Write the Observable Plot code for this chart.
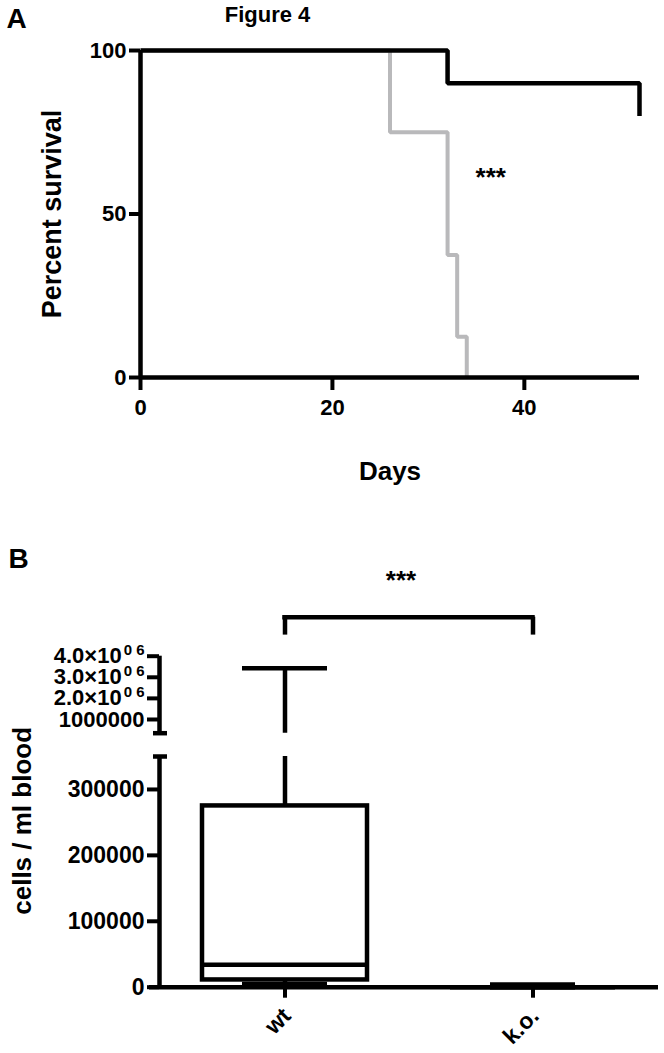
<!DOCTYPE html>
<html>
<head>
<meta charset="utf-8">
<script src="https://cdn.jsdelivr.net/npm/d3@7"></script>
<script src="https://cdn.jsdelivr.net/npm/@observablehq/plot@0.6"></script>
<style>
html, body { margin: 0; padding: 0; background: #fff; }
#fig { position: relative; width: 664px; height: 1053px; overflow: hidden; background: #fff;
       font-family: "Liberation Sans", Arial, sans-serif; font-weight: bold; }
#fig svg { position: absolute; left: 0; overflow: visible; font-weight: bold; }
</style>
</head>
<body>
<div id="fig"></div>
<script>
// ---------- Panel A: survival ----------
const wtDays = [0, 32, 52];
const wtSurvival = [100, 90, 80];
const koDays = [0, 26, 32, 33, 34];
const koSurvival = [100, 75, 37.5, 12.5, 0];
const dayTicks = [0, 20, 40];
const survivalTicks = [0, 50, 100];

// ---------- Panel B: box plot (cells / ml blood) ----------
const groups = ["wt", "k.o."];
const boxMin = [5000, 0];
const boxQ1 = [11000, 0];
const boxMedian = [34000, 0];
const boxQ3 = [275000, 0];
const boxMax = [3430000, 4000];
const lowerTicks = [0, 100000, 200000, 300000];
const lowerTickLabels = ["0", "100000", "200000", "300000"];
const upperTicks = [1000000, 2000000, 3000000, 4000000];
const upperTickBase = ["1000000", "2.0×10", "3.0×10", "4.0×10"];
const upperTickSup = ["", "0 6", "0 6", "0 6"];
const breakValue = 350000;
const upperTop = 4000000;

const FONT = '"Liberation Sans", Arial, sans-serif';
const baseStyle = {fontFamily: FONT, fontWeight: "bold", background: "transparent", overflow: "visible", color: "black"};
const fig = document.getElementById("fig");
const LW = 4.5;

const wtRows = wtDays.map((d, i) => ({day: d, pct: wtSurvival[i]}));
const koRows = koDays.map((d, i) => ({day: d, pct: koSurvival[i]}));

const plotA = Plot.plot({
  width: 664, height: 500,
  marginLeft: 140, marginRight: 25, marginTop: 50, marginBottom: 123,
  style: baseStyle,
  x: {domain: [0, 52]},
  y: {domain: [0, 100]},
  marks: [
    Plot.line(koRows, {x: "day", y: "pct", curve: "step-after", stroke: "#b9b9bb", strokeWidth: 4, strokeLinejoin: "miter", strokeLinecap: "butt"}),
    Plot.ruleY([0], {strokeWidth: LW}),
    Plot.ruleX([0], {y1: 0, y2: 100, strokeWidth: LW}),
    Plot.line(wtRows, {x: "day", y: "pct", curve: "step-after", stroke: "black", strokeWidth: LW, strokeLinejoin: "miter", strokeLinecap: "butt"}),
    Plot.axisX({ticks: dayTicks, tickSize: 13, tickPadding: 9, strokeWidth: 4, fontSize: 22, fontWeight: "bold", label: null}),
    Plot.axisY({ticks: survivalTicks, tickSize: 11, tickPadding: 3, strokeWidth: 4, fontSize: 22, fontWeight: "bold", label: null}),
    Plot.text(["Days"], {frameAnchor: "bottom", dy: 102, textAnchor: "middle", lineAnchor: "bottom", fontSize: 26, fontWeight: "bold"}),
    Plot.text(["Percent survival"], {frameAnchor: "left", rotate: -90, dx: -80, textAnchor: "middle", lineAnchor: "bottom", fontSize: 27, fontWeight: "bold"}),
    Plot.text(["***"], {x: 36.5, y: 58.5, lineAnchor: "bottom", fontSize: 26, fontWeight: "bold"}),
    Plot.text(["A"], {frameAnchor: "top-left", dx: -134, dy: -23, textAnchor: "start", lineAnchor: "bottom", fontSize: 28, fontWeight: "bold"}),
    Plot.text(["Figure 4"], {frameAnchor: "top-left", dx: 127, dy: -29, textAnchor: "middle", lineAnchor: "bottom", fontSize: 22, fontWeight: "bold"})
  ]
});
plotA.style.top = "0px";
fig.appendChild(plotA);

// ---------- Panel B ----------
const boxRows = groups.map((g, i) => ({group: g, min: boxMin[i], q1: boxQ1[i], median: boxMedian[i], q3: boxQ3[i], max: boxMax[i]}));
const PAD_IN = 0.335, PAD_OUT = 0.173;
const xBand = {type: "band", domain: groups, paddingInner: PAD_IN, paddingOuter: PAD_OUT, axis: null};
const FRAME_W = 664 - 159 - 6;
const BANDWIDTH = FRAME_W / (groups.length - PAD_IN + 2 * PAD_OUT) * (1 - PAD_IN);

// upper segment of the broken axis
const plotBUpper = Plot.plot({
  width: 664, height: 205,
  marginLeft: 159, marginRight: 6, marginTop: 115.7, marginBottom: 12.3,
  style: baseStyle,
  x: xBand,
  y: {domain: [breakValue, upperTop], axis: null},
  marks: [
    Plot.ruleX([0], {x: null, y1: breakValue, y2: upperTop, dx: -FRAME_W / 2, strokeWidth: LW}),
    Plot.ruleY([breakValue], {insetLeft: -6, insetRight: FRAME_W - 8, strokeWidth: LW}),
    Plot.axisY({ticks: upperTicks, tickFormat: d => upperTickBase[upperTicks.indexOf(d)], tickSize: 12, tickPadding: 3, strokeWidth: 4, fontSize: 22, fontWeight: "bold", label: null}),
    Plot.ruleX(boxRows, {x: "group", y1: "q3", y2: "max", strokeWidth: LW, clip: true}),
    Plot.tickY(boxRows, {x: "group", y: "max", insetLeft: 40, insetRight: 40, strokeWidth: LW, clip: true}),
    Plot.ruleX(groups, {x: d => d, y1: 5.0e6, y2: 5.85e6, strokeWidth: LW}),
    Plot.ruleY([5.85e6], {x1: () => groups[0], x2: () => groups[1], insetLeft: BANDWIDTH / 2, insetRight: BANDWIDTH / 2, strokeWidth: LW, strokeLinecap: "square"}),
    Plot.text(["***"], {frameAnchor: "top", dx: -8, dy: -67, lineAnchor: "bottom", fontSize: 26, fontWeight: "bold"}),
    Plot.text(["B"], {frameAnchor: "top-left", dx: -151, dy: -88.7, textAnchor: "start", lineAnchor: "bottom", fontSize: 28, fontWeight: "bold"})
  ]
});
plotBUpper.style.top = "540px";

// add the superscript part of the upper tick labels as real tspans
d3.select(plotBUpper).selectAll("text").each(function () {
  const i = upperTickBase.indexOf(this.textContent);
  if (i >= 0 && upperTickSup[i]) {
    d3.select(this).append("tspan")
      .attr("dy", -8)
      .attr("dx", 2)
      .attr("font-size", 15)
      .text(upperTickSup[i]);
  }
});

// lower segment of the broken axis
const plotBLower = Plot.plot({
  width: 664, height: 308,
  marginLeft: 159, marginRight: 6, marginTop: 11, marginBottom: 66.3,
  style: baseStyle,
  x: xBand,
  y: {domain: [0, breakValue], axis: null},
  marks: [
    Plot.ruleX([0], {x: null, y1: 0, y2: breakValue, dx: -FRAME_W / 2, strokeWidth: LW}),
    Plot.ruleY([breakValue], {insetLeft: -6, insetRight: FRAME_W - 8, strokeWidth: LW}),
    Plot.axisY({ticks: lowerTicks, tickFormat: d => lowerTickLabels[lowerTicks.indexOf(d)], tickSize: 12, tickPadding: 3, strokeWidth: 4, fontSize: 23, fontWeight: "bold", label: null}),
    Plot.ruleX(boxRows, {x: "group", y1: "q3", y2: "max", strokeWidth: LW, clip: true}),
    Plot.ruleX(boxRows, {x: "group", y1: "min", y2: "q1", strokeWidth: LW}),
    Plot.tickY(boxRows, {x: "group", y: "max", insetLeft: 40, insetRight: 40, strokeWidth: LW, clip: true}),
    Plot.tickY(boxRows, {x: "group", y: "min", insetLeft: 40, insetRight: 40, strokeWidth: LW}),
    Plot.barY(boxRows, {x: "group", y1: "q1", y2: "q3", fill: "white", stroke: "black", strokeWidth: LW}),
    Plot.tickY(boxRows, {x: "group", y: "median", strokeWidth: LW}),
    Plot.ruleY([0], {insetLeft: -10, strokeWidth: LW}),
    Plot.ruleX(groups, {x: d => d, insetTop: 308 - 11 - 66.3, insetBottom: -11, strokeWidth: 4}),
    Plot.text(groups, {x: d => d, frameAnchor: "bottom", rotate: -45, textAnchor: "end", lineAnchor: "middle", dx: 2, dy: 25, fontSize: 23, fontWeight: "bold"}),
    Plot.text(["cells / ml blood"], {frameAnchor: "left", rotate: -90, dx: -129, dy: -51, textAnchor: "middle", lineAnchor: "bottom", fontSize: 26, fontWeight: "bold"})
  ]
});
plotBLower.style.top = "745px";
fig.appendChild(plotBLower);
fig.appendChild(plotBUpper);
</script>
</body>
</html>
